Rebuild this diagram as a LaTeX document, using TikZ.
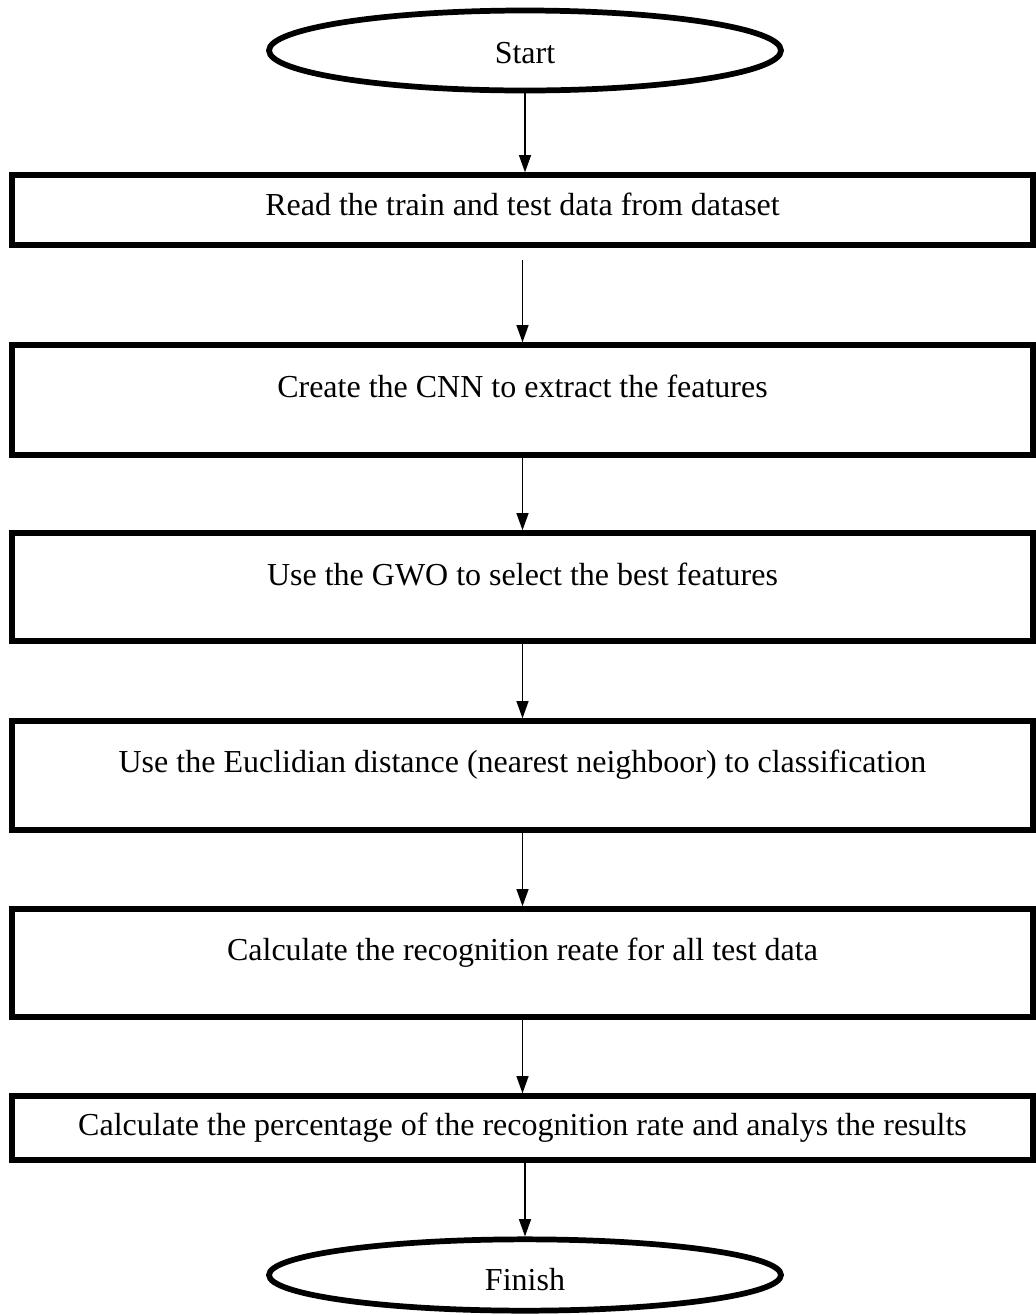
\documentclass[tikz,border=0pt]{standalone}
\usepackage{fontspec}
\setmainfont{Liberation Serif}
\usetikzlibrary{shapes.geometric,arrows.meta}
\begin{document}
\begin{tikzpicture}[x=0.75pt,y=-0.75pt,
  stepbox/.style={draw,line width=4pt,minimum width=765.75pt,inner sep=0pt},
  term/.style={draw,ellipse,line width=4.3pt,minimum width=384pt,inner sep=0pt},
  lbl/.style={anchor=base,font=\fontsize{24}{29}\selectfont,inner sep=0pt},
  flow/.style={-{Triangle[length=13pt,width=9pt]},line width=1.1pt}]
\useasboundingbox (0,0) rectangle (1036,1315);
% terminals
\node[term,minimum height=60pt] (start) at (525,50.5) {};
\node[lbl] (tstart) at (525,63) {Start};
\node[term,minimum height=53.5pt] (finish) at (525,1275) {};
\node[lbl] (tfinish) at (525,1290) {Finish};
% steps
\node[stepbox,minimum height=52.5pt] (b1) at (522.5,210) {};
\node[lbl] (t1) at (522.5,215) {Read the train and test data from dataset};
\node[stepbox,minimum height=82.5pt] (b2) at (522.5,400) {};
\node[lbl] (t2) at (522.5,397) {Create the CNN to extract the features};
\node[stepbox,minimum height=81pt] (b3) at (522.5,587) {};
\node[lbl] (t3) at (522.5,585) {Use the GWO to select the best features};
\node[stepbox,minimum height=81.75pt] (b4) at (522.5,775.5) {};
\node[lbl] (t4) at (522.5,772) {Use the Euclidian distance (nearest neighboor) to classification};
\node[stepbox,minimum height=81pt] (b5) at (522.5,963) {};
\node[lbl] (t5) at (522.5,960) {Calculate the recognition reate for all test data};
\node[stepbox,minimum height=48pt] (b6) at (522.5,1128) {};
\node[lbl] (t6) at (522.5,1135) {Calculate the percentage of the recognition rate and analys the results};
% connectors
\draw[flow] (start.south) -- (start.south |- b1.north);
\draw[flow,shorten <=9pt] (b1.south) -- (b2.north);
\draw[flow] (b2.south) -- (b3.north);
\draw[flow] (b3.south) -- (b4.north);
\draw[flow] (b4.south) -- (b5.north);
\draw[flow] (b5.south) -- (b6.north);
\draw[flow] (b6.south -| finish.north) -- (finish.north);
\end{tikzpicture}
\end{document}
